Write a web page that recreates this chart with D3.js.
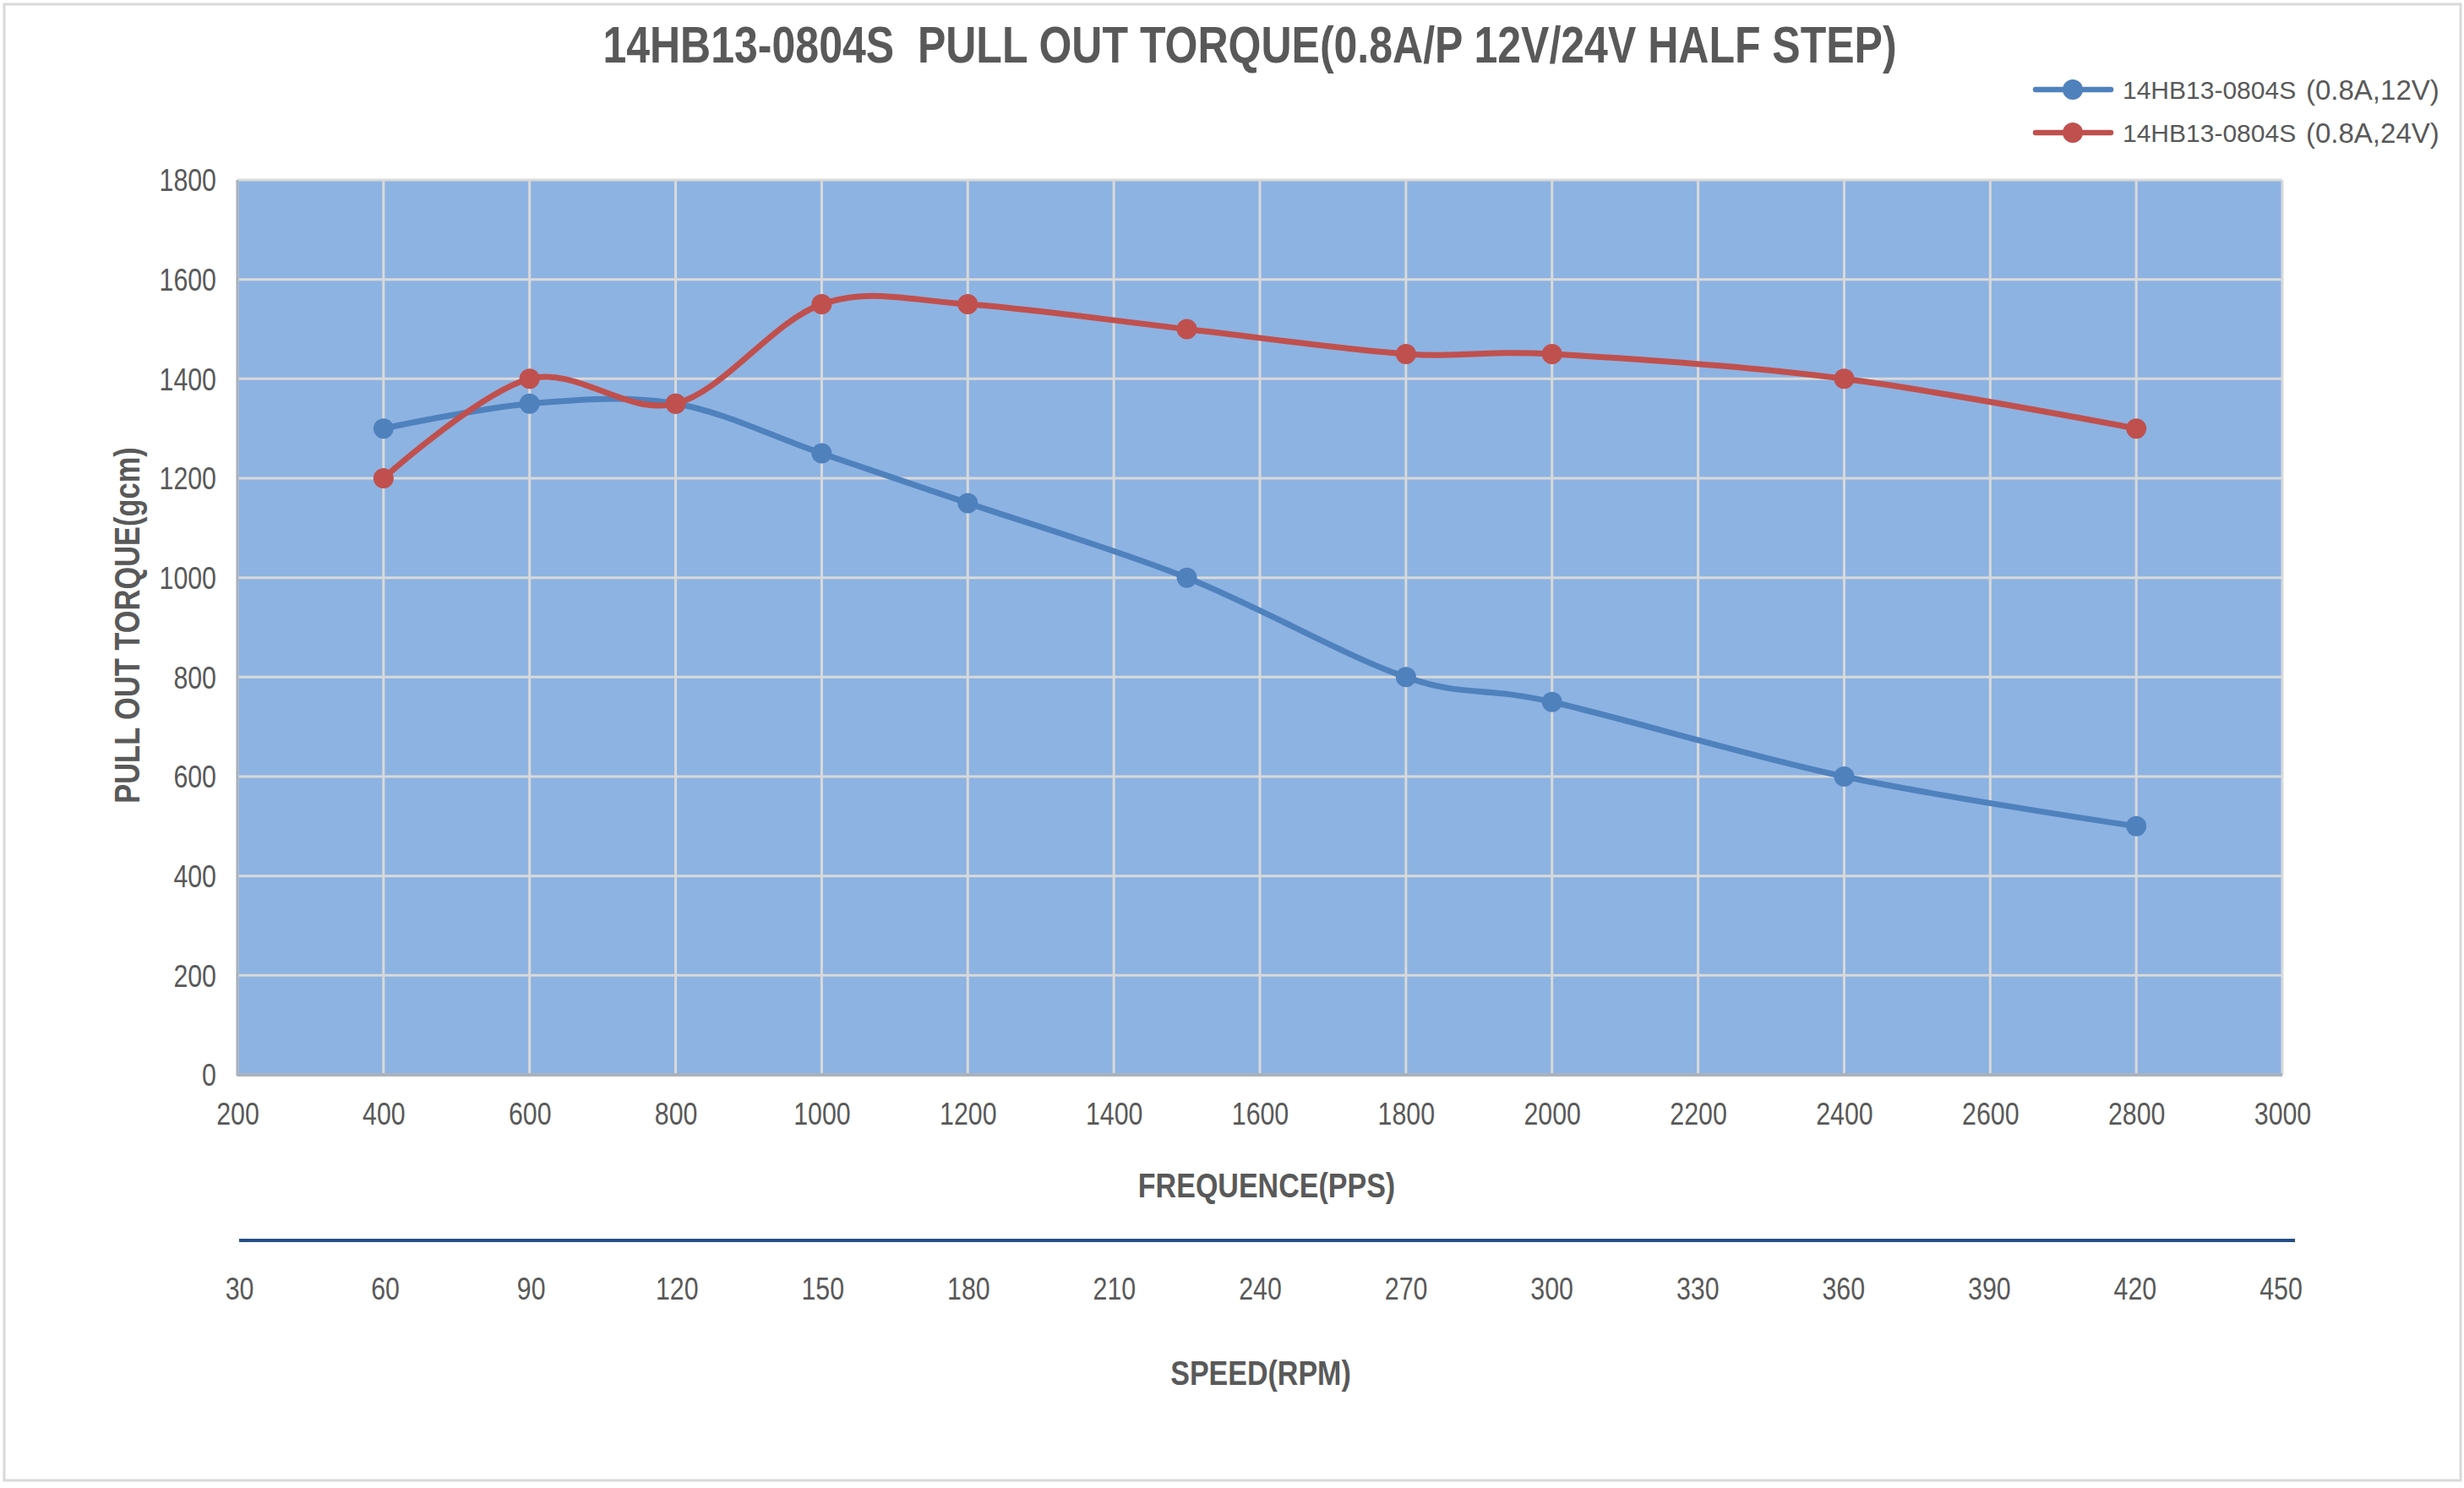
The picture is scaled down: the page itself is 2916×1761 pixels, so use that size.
<!DOCTYPE html>
<html>
<head>
<meta charset="utf-8">
<script src="https://cdn.jsdelivr.net/npm/d3@7"></script>
<style>
  html, body { margin: 0; padding: 0; background: #ffffff; }
  svg { display: block; }
  .narrow { font-family: "Liberation Sans", Arial, sans-serif; }
  .reg { font-family: "Liberation Sans", Arial, sans-serif; }
</style>
</head>
<body>
<svg id="chart" width="2916" height="1761"></svg>
<script>
// ---- data ----
const freqs = [400, 600, 800, 1000, 1200, 1500, 1800, 2000, 2400, 2800];
const torque12V = [1300, 1350, 1350, 1250, 1150, 1000, 800, 750, 600, 500];
const torque24V = [1200, 1400, 1350, 1550, 1550, 1500, 1450, 1450, 1400, 1300];
const seriesNames = ["14HB13-0804S", "14HB13-0804S"];
const seriesSuffix = ["(0.8A,12V)", "(0.8A,24V)"];
const freqTicks = [200, 400, 600, 800, 1000, 1200, 1400, 1600, 1800, 2000, 2200, 2400, 2600, 2800, 3000];
const torqueTicks = [0, 200, 400, 600, 800, 1000, 1200, 1400, 1600, 1800];
const rpmTicks = [30, 60, 90, 120, 150, 180, 210, 240, 270, 300, 330, 360, 390, 420, 450];
const titleText = "14HB13-0804S  PULL OUT TORQUE(0.8A/P 12V/24V HALF STEP)";
const xTitle = "FREQUENCE(PPS)";
const yTitle = "PULL OUT TORQUE(gcm)";
const rpmTitle = "SPEED(RPM)";

// ---- layout ----
const svg = d3.select("#chart");
const plot = { left: 281, right: 2701, top: 213, bottom: 1272 };
const textColor = "#595959";
const colors = ["#4F81BD", "#C0504D"];
const NARROW = "scale(0.82,1)";

// outer frame
svg.append("rect").attr("x", 5).attr("y", 5).attr("width", 2907).attr("height", 1747)
  .attr("fill", "#fff").attr("stroke", "#D9D9D9").attr("stroke-width", 3);

const x = d3.scaleLinear().domain([200, 3000]).range([plot.left, plot.right]);
const y = d3.scaleLinear().domain([0, 1800]).range([plot.bottom, plot.top]);
const xr = d3.scaleLinear().domain([30, 450]).range([283, 2699]);

// plot background
svg.append("rect").attr("x", plot.left).attr("y", plot.top)
  .attr("width", plot.right - plot.left).attr("height", plot.bottom - plot.top)
  .attr("fill", "#8DB3E2");

// gridlines
const grid = svg.append("g");
grid.selectAll("line.h").data(torqueTicks).join("line")
  .attr("x1", plot.left).attr("x2", plot.right)
  .attr("y1", d => y(d)).attr("y2", d => y(d))
  .attr("stroke", "#D9D9D9").attr("stroke-width", 3);
grid.selectAll("line.v").data(freqTicks).join("line")
  .attr("y1", plot.top).attr("y2", plot.bottom)
  .attr("x1", d => x(d)).attr("x2", d => x(d))
  .attr("stroke", "#D9D9D9").attr("stroke-width", 3);

// axis lines (left & bottom)
svg.append("line").attr("x1", plot.left).attr("x2", plot.left).attr("y1", plot.top).attr("y2", plot.bottom + 1.5)
  .attr("stroke", "#A9B2BC").attr("stroke-width", 3);
svg.append("line").attr("x1", plot.left).attr("x2", plot.right).attr("y1", plot.bottom).attr("y2", plot.bottom)
  .attr("stroke", "#A9B2BC").attr("stroke-width", 4);

// y axis via d3 axis
const yAxis = svg.append("g").attr("transform", `translate(${plot.left - 25},0)`)
  .call(d3.axisLeft(y).tickValues(torqueTicks).tickSize(0).tickPadding(0).tickFormat(d3.format("d")));
yAxis.select(".domain").remove();
yAxis.selectAll("text").attr("class", "narrow").attr("font-size", 37).attr("fill", textColor)
  .attr("x", 0).attr("dy", "0.35em").attr("transform", NARROW);

// x axis
const xAxis = svg.append("g").attr("transform", `translate(0,${plot.bottom + 33})`)
  .call(d3.axisBottom(x).tickValues(freqTicks).tickSize(0).tickPadding(0).tickFormat(d3.format("d")));
xAxis.select(".domain").remove();
xAxis.selectAll("text").attr("class", "narrow").attr("font-size", 37).attr("fill", textColor)
  .attr("y", 0).attr("dy", "0.71em").attr("transform", NARROW);

// rpm axis line
svg.append("line").attr("x1", 283).attr("x2", 2716).attr("y1", 1468).attr("y2", 1468)
  .attr("stroke", "#254E85").attr("stroke-width", 4);
const rAxis = svg.append("g").attr("transform", `translate(0,1512)`)
  .call(d3.axisBottom(xr).tickValues(rpmTicks).tickSize(0).tickPadding(0).tickFormat(d3.format("d")));
rAxis.select(".domain").remove();
rAxis.selectAll("text").attr("class", "narrow").attr("font-size", 37).attr("fill", textColor)
  .attr("y", 0).attr("dy", "0.71em").attr("transform", NARROW);

// series
const line = d3.line().x(d => x(d[0])).y(d => y(d[1])).curve(d3.curveCatmullRom.alpha(0));
[torque12V, torque24V].forEach((vals, i) => {
  const pts = freqs.map((f, j) => [f, vals[j]]);
  const g = svg.append("g");
  g.append("path").datum(pts).attr("d", line).attr("fill", "none")
    .attr("stroke", colors[i]).attr("stroke-width", 7).attr("stroke-linecap", "round").attr("stroke-linejoin", "round");
  g.selectAll("circle").data(pts).join("circle")
    .attr("cx", d => x(d[0])).attr("cy", d => y(d[1])).attr("r", 12)
    .attr("fill", colors[i]);
});

// title
svg.append("g").attr("transform", "translate(1479,74)")
  .append("text").attr("class", "narrow").attr("transform", NARROW)
  .attr("text-anchor", "middle").attr("font-size", 61).attr("font-weight", "bold")
  .attr("fill", textColor).style("white-space", "pre").text(titleText);

// axis titles
svg.append("g").attr("transform", "translate(1499,1402)")
  .append("text").attr("class", "narrow").attr("transform", NARROW)
  .attr("text-anchor", "middle").attr("dy", "0.35em").attr("font-size", 41.5).attr("font-weight", "bold")
  .attr("fill", textColor).text(xTitle);
svg.append("g").attr("transform", "translate(1492,1624)")
  .append("text").attr("class", "narrow").attr("transform", NARROW)
  .attr("text-anchor", "middle").attr("dy", "0.35em").attr("font-size", 41.5).attr("font-weight", "bold")
  .attr("fill", textColor).text(rpmTitle);
svg.append("g").attr("transform", "translate(150,740) rotate(-90)")
  .append("text").attr("class", "narrow").attr("transform", NARROW)
  .attr("text-anchor", "middle").attr("dy", "0.35em").attr("font-size", 42).attr("font-weight", "bold")
  .attr("fill", textColor).text(yTitle);

// legend
const legendY = [106, 157];
seriesNames.forEach((name, i) => {
  const g = svg.append("g");
  g.append("line").attr("x1", 2409).attr("x2", 2498).attr("y1", legendY[i]).attr("y2", legendY[i])
    .attr("stroke", colors[i]).attr("stroke-width", 6.5).attr("stroke-linecap", "round");
  g.append("circle").attr("cx", 2453).attr("cy", legendY[i]).attr("r", 12).attr("fill", colors[i]);
  g.append("text").attr("class", "reg").attr("x", 2512).attr("y", legendY[i]).attr("dy", "0.35em")
    .attr("font-size", 30).attr("fill", textColor).text(name);
  g.append("text").attr("class", "reg").attr("x", 2729).attr("y", legendY[i]).attr("dy", "0.35em")
    .attr("font-size", 33).attr("fill", textColor).text(seriesSuffix[i]);
});
</script>
</body>
</html>
